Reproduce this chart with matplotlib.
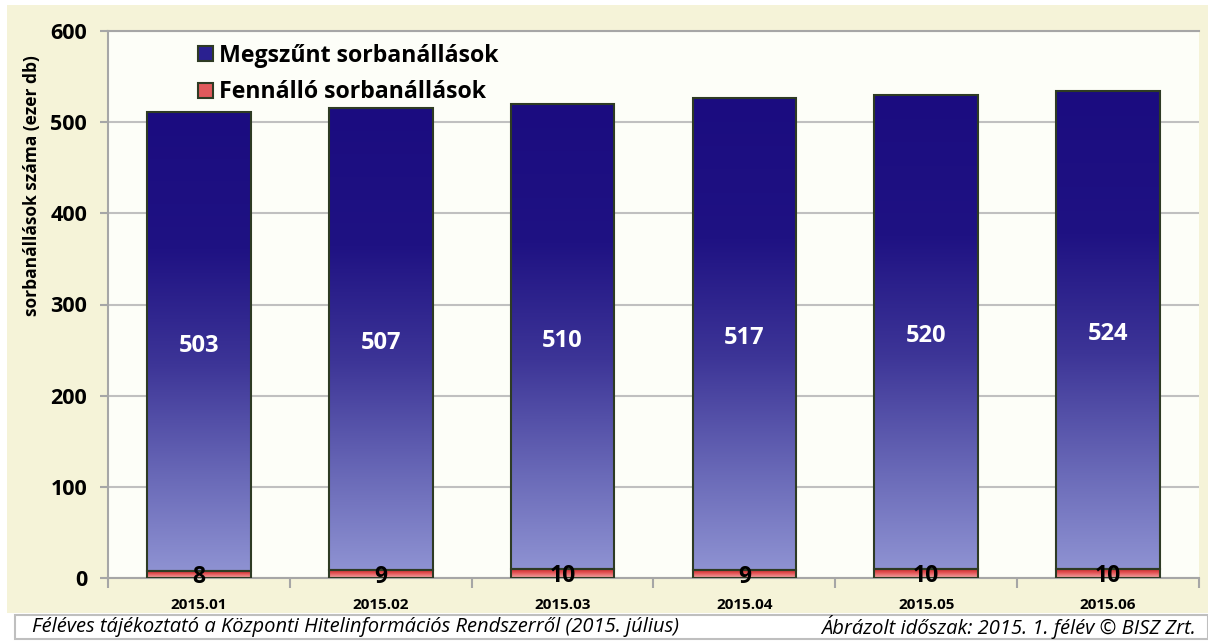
import matplotlib
matplotlib.use("Agg")
import matplotlib.pyplot as plt
import numpy as np
from matplotlib.patches import Rectangle, Patch
from matplotlib.colors import to_rgb

categories = ["2015.01", "2015.02", "2015.03", "2015.04", "2015.05", "2015.06"]
fennallo = [8, 9, 10, 9, 10, 10]
megszunt = [503, 507, 510, 517, 520, 524]
series_names = ["Megszűnt sorbanállások", "Fennálló sorbanállások"]
y_label = "sorbanállások száma (ezer db)"
footer_left = "Féléves tájékoztató a Központi Hitelinformációs Rendszerről (2015. július)"
footer_right = "Ábrázolt időszak: 2015. 1. félév © BISZ Zrt."

FONT = ["Open Sans", "DejaVu Sans"]
plt.rcParams['font.family'] = FONT

W, H = 1208, 641
fig = plt.figure(figsize=(W / 100, H / 100), dpi=100)
fig.patch.set_facecolor("white")

def px(x0, y0, x1, y1):
    return (x0 / W, 1 - y1 / H, (x1 - x0) / W, (y1 - y0) / H)

bx, by, bw, bh = px(7, 5, 1208, 613)
fig.patches.append(Rectangle((bx, by), bw, bh, transform=fig.transFigure,
                             facecolor="#F5F3D8", edgecolor="none", zorder=-10))
fx, fy, fw, fh = px(15, 615, 1208, 639)
fig.patches.append(Rectangle((fx, fy), fw, fh, transform=fig.transFigure,
                             facecolor="white", edgecolor="#BFBFBF", lw=1.5, zorder=-9))

ax = fig.add_axes(px(108, 31, 1199, 578))
ax.set_zorder(2)
ax.set_facecolor("#FDFEF8")

x = np.arange(len(categories))
bw_ = 0.57

def gradient(stops, n=256):
    t = np.linspace(0, 1, n)
    pos = [s[0] for s in stops]
    cols = np.array([to_rgb(s[1]) for s in stops])
    out = np.stack([np.interp(t, pos, cols[:, k]) for k in range(3)], axis=-1)
    return out[:, None, :]

blue_grad = gradient([(0.0, "#1B0C80"), (0.3, "#1F1283"), (0.55, "#3D3597"),
                      (0.8, "#6A6AB8"), (1.0, "#8E92D2")])
red_grad = gradient([(0.0, "#C8282C"), (0.4, "#E04A4C"), (1.0, "#F4AAAA")])

edge = "#2E3B24"
for i in range(len(categories)):
    b0, b1 = 0, fennallo[i]
    t1 = b1 + megszunt[i]
    l, r = x[i] - bw_ / 2, x[i] + bw_ / 2
    ax.imshow(red_grad, extent=(l, r, b0, b1), aspect="auto", zorder=2,
              interpolation="bilinear")
    ax.imshow(blue_grad, extent=(l, r, b1, t1), aspect="auto", zorder=2,
              interpolation="bilinear")
    ax.add_patch(Rectangle((l, b0), bw_, b1 - b0, fill=False, edgecolor=edge, lw=1.5, zorder=3))
    ax.add_patch(Rectangle((l, b1), bw_, t1 - b1, fill=False, edgecolor=edge, lw=1.5, zorder=3))
    ax.annotate(f"{megszunt[i]}", (x[i], b1 + megszunt[i] / 2), xytext=(0, -3),
                textcoords="offset points", ha="center", va="center",
                color="white", fontsize=17, fontweight="bold", zorder=4)
    ax.annotate(f"{fennallo[i]}", (x[i], fennallo[i] / 2), xytext=(0, -2),
                textcoords="offset points", ha="center", va="center",
                color="black", fontsize=16.5, fontweight="bold", zorder=4)

ax.set_xlim(-0.5, len(categories) - 0.5)
ax.set_ylim(0, 600)

ax.set_yticks(np.arange(0, 601, 100))
ax.yaxis.grid(True, color="#C0C0C0", lw=1.5, zorder=1)
ax.set_axisbelow(True)
ax.tick_params(axis="y", length=6, color="#A6A6A6", width=1.5, labelsize=15.5, pad=9)
for lab in ax.get_yticklabels():
    lab.set_fontweight("bold")

ax.set_xticks(x)
ax.set_xticklabels(categories, fontsize=11, fontweight="bold")
ax.set_xticks(np.arange(-0.5, len(categories)), minor=True)
ax.tick_params(axis="x", which="major", length=0, pad=14.5)
ax.tick_params(axis="x", which="minor", length=7, color="#A6A6A6", width=1.5)

for s in ["left", "top", "bottom"]:
    ax.spines[s].set_color("#A6A6A6")
    ax.spines[s].set_linewidth(1.5)
ax.spines["right"].set_visible(False)

fig.text(32 / W, 1 - 186 / H, y_label, rotation=90, ha="center", va="center",
         fontsize=12.5, fontweight="bold")

handles = [Patch(facecolor="#2A2090", edgecolor=edge, lw=1.5),
           Patch(facecolor="#E05A5C", edgecolor=edge, lw=1.5)]
leg = ax.legend(handles, series_names, loc="upper left", bbox_to_anchor=(0.072, 0.998),
                frameon=False, prop={"family": FONT, "weight": "bold", "size": 16.7},
                handlelength=0.62, handleheight=0.62, handletextpad=0.3,
                labelspacing=0.55, borderpad=0)

fig.text(32 / W, 1 - 627 / H, footer_left, ha="left", va="center",
         fontsize=14.5, style="italic")
fig.text(1196 / W, 1 - 627 / H, footer_right, ha="right", va="center",
         fontsize=14.5, style="italic")

fig.savefig("out.png", dpi=100, facecolor=fig.get_facecolor())
